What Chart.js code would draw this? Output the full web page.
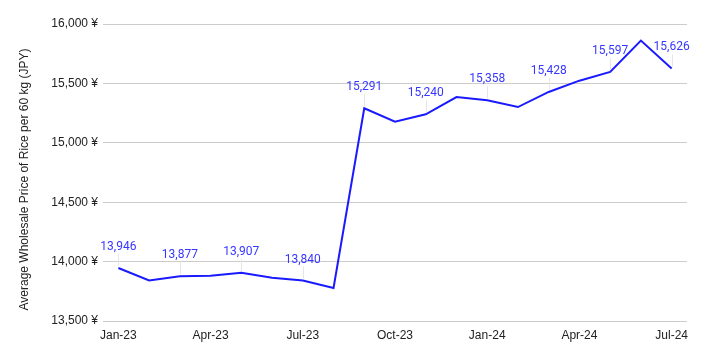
<!DOCTYPE html>
<html><head><meta charset="utf-8">
<script src="https://cdn.jsdelivr.net/npm/chart.js@4"></script>
<style>html,body{margin:0;padding:0;background:#fff}#wrap{width:704px;height:359px}</style>
</head><body><div id="wrap"><canvas id="c" width="704" height="359"></canvas></div>
<script>
const months = ["Jan-23","Feb-23","Mar-23","Apr-23","May-23","Jun-23","Jul-23","Aug-23","Sep-23","Oct-23","Nov-23","Dec-23","Jan-24","Feb-24","Mar-24","Apr-24","May-24","Jun-24","Jul-24"];
const prices = [13946,13842,13877,13881,13907,13864,13840,13778,15291,15178,15240,15385,15358,15301,15428,15523,15597,15860,15626];
const labelledIdx = [0,2,4,6,8,10,12,14,16,18];
const yTicks = {min:13500, max:16000, step:500};
const yTitle = "Average Wholesale Price of Rice per 60 kg (JPY)";

const labelPlugin = {
  id:'pointLabels',
  afterDatasetsDraw(chart){
    const ctx = chart.ctx;
    const meta = chart.getDatasetMeta(0);
    ctx.save();
    labelledIdx.forEach(i=>{
      const p = meta.data[i];
      const ty = p.y - 21;
      ctx.strokeStyle = '#e6e6e6';
      ctx.lineWidth = 1;
      ctx.beginPath();
      ctx.moveTo(Math.round(p.x)+0.5, ty+7);
      ctx.lineTo(Math.round(p.x)+0.5, p.y-2);
      ctx.stroke();
      ctx.fillStyle = '#3636ff';
      ctx.font = '12px Roboto';
      ctx.textAlign = 'center';
      ctx.textBaseline = 'middle';
      ctx.fillText(prices[i].toLocaleString('en-US'), p.x, ty);
    });
    ctx.restore();
  }
};
const titlePlugin = {
  id:'yTitle',
  afterDraw(chart){
    const ctx = chart.ctx;
    ctx.save();
    ctx.translate(25, chart.height/2);
    ctx.rotate(-Math.PI/2);
    ctx.fillStyle = '#222';
    ctx.font = '12px "Liberation Sans"';
    ctx.textAlign = 'center';
    ctx.textBaseline = 'middle';
    ctx.fillText(yTitle, 0, 0);
    ctx.restore();
  }
};

new Chart(document.getElementById('c'), {
  type:'line',
  data:{labels:months, datasets:[{data:prices, borderColor:'#1a1aff', borderWidth:2, pointRadius:0, tension:0, fill:false}]},
  options:{
    responsive:false, animation:false,
    layout:{padding:{left:0,right:17,top:24,bottom:0}},
    plugins:{legend:{display:false}, tooltip:{enabled:false}},
    scales:{
      x:{
        offset:true,
        grid:{display:false, drawTicks:false},
        border:{display:false},
        ticks:{autoSkip:false, maxRotation:0, padding:7, color:'#222', font:{family:'Liberation Sans', size:12},
          callback:(v,i)=> i%3===0 ? months[i] : ''},
        afterFit:(s)=>{s.height=38;}
      },
      y:{
        min:yTicks.min, max:yTicks.max,
        grid:{color:'#cccccc', drawTicks:false},
        border:{display:false},
        ticks:{stepSize:yTicks.step, padding:5, color:'#222', font:{family:'Liberation Sans', size:12},
          callback:(v)=> v.toLocaleString('en-US')+' ¥'},
        afterFit:(s)=>{s.width=103;}
      }
    }
  },
  plugins:[labelPlugin, titlePlugin]
});
</script></body></html>
